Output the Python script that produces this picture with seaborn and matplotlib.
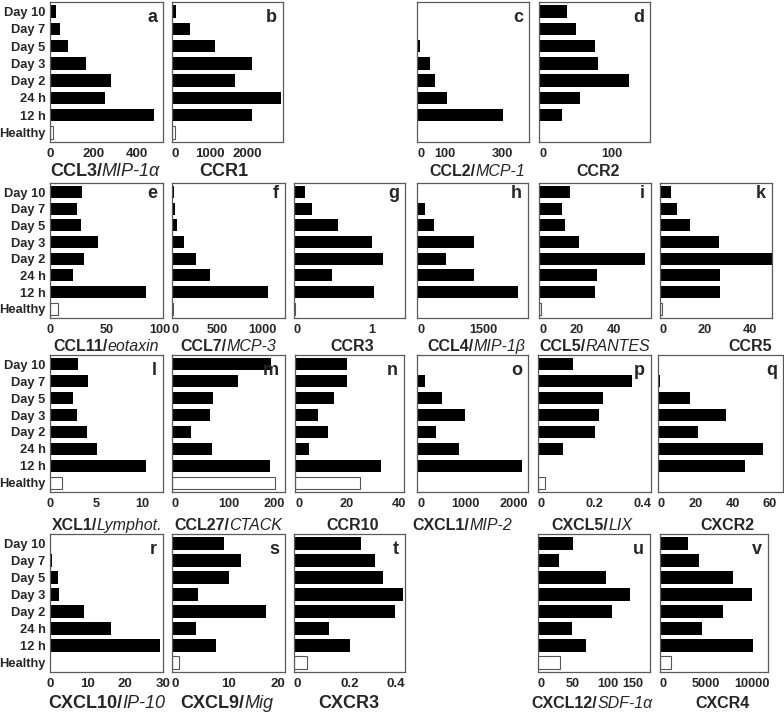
import matplotlib
matplotlib.use("Agg")
import matplotlib.pyplot as plt
from matplotlib import font_manager
from matplotlib.transforms import ScaledTranslation
import seaborn as sns
import pandas as pd

# ---------------- data ----------------
categories = ["Day 10", "Day 7", "Day 5", "Day 3", "Day 2", "24 h", "12 h", "Healthy"]

ccl3 = [28, 46, 85, 166, 281, 251, 478, 12]
ccr1 = [115, 470, 1130, 2120, 1680, 2900, 2130, 70]
ccl2 = [1, 2, 12, 45, 64, 106, 304, 0]
ccr2 = [39, 50, 77, 81, 123, 56, 32, 0]
ccl11 = [28, 24, 27.5, 42.6, 30, 20.7, 85, 7.4]
ccl7 = [19, 30, 56, 130, 261, 418, 1063, 7]
ccr3 = [0.137, 0.23, 0.564, 1.0, 1.14, 0.487, 1.02, 0.013]
ccl4 = [0, 188, 383, 1284, 660, 1284, 2282, 0]
ccl5 = [16.4, 12.3, 14, 21.2, 56.6, 31, 30, 1]
ccr5 = [4.9, 7.5, 13.6, 26.3, 50, 26.9, 26.9, 1]
xcl1 = [3.0, 4.06, 2.5, 2.9, 4.0, 5.1, 10.4, 1.26]
ccl27 = [175, 116, 73, 68, 33, 70, 174, 183]
ccr10 = [20, 20, 15.2, 9, 12.8, 5.3, 33.2, 24.9]
cxcl1 = [0, 159, 525, 1001, 387, 863, 2182, 0]
cxcl5 = [0.125, 0.332, 0.23, 0.216, 0.202, 0.089, 0, 0.026]
cxcr2 = [0.7, 1.3, 17.3, 36.4, 21.3, 56.4, 46.4, 0]
cxcl10 = [0.35, 0.5, 2.0, 2.3, 8.9, 16.1, 29.1, 0]
cxcl9 = [9.2, 12.2, 10.0, 4.6, 16.7, 4.3, 7.8, 1.2]
cxcr3 = [0.243, 0.293, 0.321, 0.393, 0.364, 0.127, 0.202, 0.047]
cxcl12 = [50, 30, 97, 131, 105, 48, 68, 32]
cxcr4 = [3070, 4230, 7900, 10000, 6830, 4510, 10070, 1230]

# ---------------- style ----------------
sns.set_style("white")


def has_font(name):
    try:
        font_manager.findfont(font_manager.FontProperties(family=name),
                              fallback_to_default=False)
        return True
    except Exception:
        return False


WIDE = "Liberation Sans"
HAS_NARROW = has_font("Liberation Sans Narrow")
NARROW = "Liberation Sans Narrow" if HAS_NARROW else "Liberation Sans"
plt.rcParams["font.family"] = [WIDE, "DejaVu Sans"]

W, H = 784, 714
fig = plt.figure(figsize=(W / 100, H / 100), dpi=100)
fig.patch.set_facecolor("white")

rows = [(2, 142), (183, 318), (355, 492), (534, 672)]
label_base = [176, 351, 530, 708]
letter_off = [16, 10.5, 15, 16]
FRAME = "#5a5a5a"
right_end = {"m", "s", "u", "p", "t"}
nudge_left = {"e": 3}

# letter, values, row, x0, x1, xmax, ticks, ticklabels, bold part, italic part, label center, wide
panels = [
    ("a", ccl3, 0, 50, 163, 520, [0, 100, 200, 300, 400, 500], ["0", "", "200", "", "400", ""], "CCL3/", "MIP-1α", 105, True),
    ("b", ccr1, 0, 172, 283, 2950, [0, 500, 1000, 1500, 2000, 2500], ["0", "", "1000", "", "2000", ""], "CCR1", "", 224, True),
    ("c", ccl2, 0, 417, 529, 395, [0, 100, 200, 300], ["0", "100", "", "300"], "CCL2/", "MCP-1", 477, False),
    ("d", ccr2, 0, 539, 650, 152, [0, 50, 100, 150], ["0", "", "100", ""], "CCR2", "", 598, False),
    ("e", ccl11, 1, 50, 163, 100, [0, 25, 50, 75, 100], ["0", "", "50", "", "100"], "CCL11/", "eotaxin", 106, False),
    ("f", ccl7, 1, 172, 285, 1250, [0, 250, 500, 750, 1000, 1250], ["0", "", "500", "", "1000", ""], "CCL7/", "MCP-3", 228, False),
    ("g", ccr3, 1, 294, 405, 1.42, [0, 0.25, 0.5, 0.75, 1, 1.25], ["0", "", "", "", "1", ""], "CCR3", "", 352, False),
    ("h", ccl4, 1, 417, 528, 2500, [0, 500, 1000, 1500, 2000, 2500], ["0", "", "", "1500", "", ""], "CCL4/", "MIP-1β", 476, False),
    ("i", ccl5, 1, 539, 651, 60, [0, 10, 20, 30, 40, 50, 60], ["0", "", "20", "", "40", "", ""], "CCL5/", "RANTES", 595, False),
    ("k", ccr5, 1, 660, 772, 50, [0, 10, 20, 30, 40, 50], ["0", "", "20", "", "40", ""], "CCR5", "", 750, False),
    ("l", xcl1, 2, 50, 163, 12.2, [0, 2.5, 5, 7.5, 10], ["0", "", "5", "", "10"], "XCL1/", "Lymphot.", 107, False),
    ("m", ccl27, 2, 172, 285, 200, [0, 50, 100, 150, 200], ["0", "", "100", "", "200"], "CCL27/", "CTACK", 228, False),
    ("n", ccr10, 2, 295, 404, 42, [0, 10, 20, 30, 40], ["0", "", "20", "", "40"], "CCR10", "", 353, False),
    ("o", cxcl1, 2, 417, 528, 2300, [0, 500, 1000, 1500, 2000], ["0", "", "1000", "", "2000"], "CXCL1/", "MIP-2", 462, False),
    ("p", cxcl5, 2, 538, 651, 0.4, [0, 0.1, 0.2, 0.3, 0.4], ["0", "", "0.2", "", "0.4"], "CXCL5/", "LIX", 592, False),
    ("q", cxcr2, 2, 658, 783, 67, [0, 10, 20, 30, 40, 50, 60], ["0", "", "20", "", "40", "", "60"], "CXCR2", "", 727, False),
    ("r", cxcl10, 3, 50, 163, 30, [0, 5, 10, 15, 20, 25, 30], ["0", "", "10", "", "20", "", "30"], "CXCL10/", "IP-10", 107, True),
    ("s", cxcl9, 3, 172, 285, 20, [0, 5, 10, 15, 20], ["0", "", "10", "", "20"], "CXCL9/", "Mig", 227, True),
    ("t", cxcr3, 3, 294, 405, 0.4, [0, 0.1, 0.2, 0.3, 0.4], ["0", "", "0.2", "", "0.4"], "CXCR3", "", 349, True),
    ("u", cxcl12, 3, 538, 650, 160, [0, 25, 50, 75, 100, 125, 150], ["0", "", "50", "", "100", "", "150"], "CXCL12/", "SDF-1α", 592, False),
    ("v", cxcr4, 3, 660, 768, 11700, [0, 2500, 5000, 7500, 10000], ["0", "", "5000", "", "10000"], "CXCR4", "", 722, False),
]

renderer = fig.canvas.get_renderer()
palette = {c: "black" for c in categories}
palette["Healthy"] = "white"

for (letter, vals, row, x0, x1, xmax, ticks, tlabels, bold, ital, lcx, wide) in panels:
    y0, y1 = rows[row]
    ax = fig.add_axes([x0 / W, 1 - y1 / H, (x1 - x0) / W, (y1 - y0) / H])
    df = pd.DataFrame({"time": categories, "value": vals})
    sns.barplot(data=df, x="value", y="time", hue="time", order=categories,
                hue_order=categories, palette=palette, orient="h", width=0.72,
                saturation=1, linewidth=0, errorbar=None, legend=False, ax=ax)
    for p in ax.patches:
        fc = p.get_facecolor()
        if fc[0] > 0.9 and p.get_width() > 0:
            p.set_edgecolor("#555555")
            p.set_linewidth(0.8)
    ax.set_xlim(0, xmax)
    ax.set_ylim(7.55, -0.55)
    ax.set_xlabel("")
    ax.set_ylabel("")
    ax.tick_params(axis="both", direction="out", length=2, width=0.8,
                   color=FRAME, pad=1.2)
    ax.tick_params(axis="x", pad=2.5)
    tick_family = [WIDE] if wide else [NARROW, WIDE]
    ax.set_xticks(ticks)
    ax.set_xticklabels(tlabels, fontweight="bold", family=tick_family,
                       fontsize=9.5 if wide else 9.2)
    ax.set_yticks(range(len(categories)))
    if x0 == 50:
        ax.set_yticklabels(categories, fontweight="bold", family=[WIDE],
                           fontsize=9.3)
    else:
        ax.set_yticklabels([])
    xt = ax.get_xticklabels()
    if x0 != 50:
        xt[0].set_horizontalalignment("left")
    if letter in right_end:
        xt[-1].set_horizontalalignment("right")
    if letter in nudge_left:
        lab = xt[-1]
        lab.set_transform(lab.get_transform() + ScaledTranslation(
            -nudge_left[letter] / 100, 0, fig.dpi_scale_trans))
    for s in ax.spines.values():
        s.set_visible(True)
        s.set_color(FRAME)
        s.set_linewidth(0.9)
    ax.set_facecolor("white")

    # panel letter
    ax.text((x1 - 6) / W, 1 - (y0 + letter_off[row]) / H, letter,
            transform=fig.transFigure, ha="right", va="center",
            fontsize=13, fontweight="bold", family=[WIDE])

    # label below the panel: bold gene name + italic alias
    fam = [WIDE, "DejaVu Sans"] if wide else [NARROW, WIDE, "DejaVu Sans"]
    fs = 13 if (wide or HAS_NARROW) else 11.5
    yb = 1 - label_base[row] / H
    t1 = fig.text(0, yb, bold, fontweight="bold", family=fam, fontsize=fs,
                  ha="left", va="baseline")
    w1 = t1.get_window_extent(renderer).width
    w2 = 0
    t2 = None
    if ital:
        t2 = fig.text(0, yb, ital, style="italic", family=fam, fontsize=fs,
                      ha="left", va="baseline")
        w2 = t2.get_window_extent(renderer).width
    start = lcx - (w1 + w2) / 2
    t1.set_x(start / W)
    if t2 is not None:
        t2.set_x((start + w1) / W)

fig.savefig("out.png", dpi=100, facecolor="white")
